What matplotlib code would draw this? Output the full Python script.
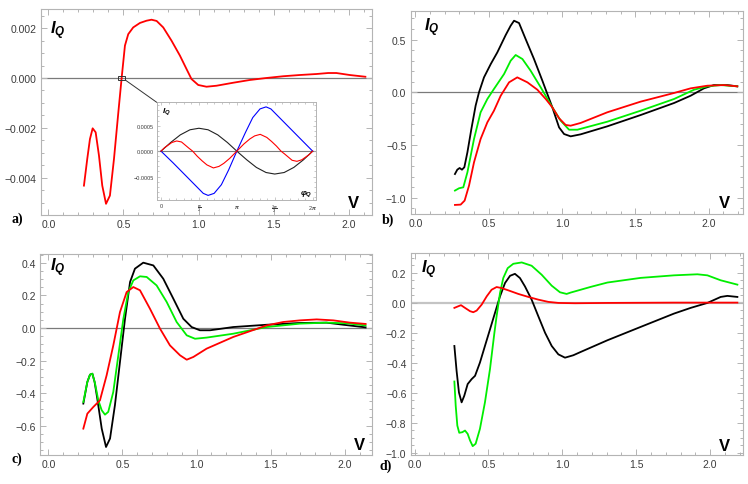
import numpy as np
import matplotlib
matplotlib.use("Agg")
import matplotlib.pyplot as plt
from matplotlib.patches import Rectangle, ConnectionPatch
from matplotlib.ticker import MultipleLocator, FixedLocator, FuncFormatter

plt.rcParams['font.family'] = ['Liberation Sans', 'DejaVu Sans']
plt.rcParams['mathtext.fontset'] = 'custom'
plt.rcParams['mathtext.it'] = 'Liberation Sans:italic:bold'
plt.rcParams['mathtext.rm'] = 'Liberation Sans'
plt.rcParams['mathtext.bf'] = 'Liberation Sans:bold'

RED = '#ff0000'
GREEN = '#00ee00'
BLACK = '#000000'
BLUE = '#0000ff'

# ---- panel a ----
ax_red = [0.237, 0.259, 0.277, 0.295, 0.315, 0.337, 0.359, 0.384, 0.410, 0.437,
          0.466, 0.488, 0.510, 0.532, 0.565, 0.610, 0.654, 0.687, 0.721, 0.765,
          0.820, 0.876, 0.920, 0.953, 0.998, 1.053, 1.120, 1.231, 1.341, 1.452,
          1.563, 1.674, 1.785, 1.863, 1.918, 2.007, 2.111]
ay_red = [-0.00432, -0.00325, -0.00245, -0.00202, -0.00218, -0.00311, -0.00432, -0.00505, -0.00472, -0.00325,
          -0.00138, 0.0, 0.0013, 0.00176, 0.00203, 0.00221, 0.00230, 0.00234, 0.00229, 0.00203,
          0.0015, 0.0009, 0.00036, -0.00004, -0.00028, -0.00035, -0.00031, -0.00019, -0.00008, 0.0,
          0.00007, 0.00012, 0.00016, 0.0002, 0.0002, 0.00012, 0.00005]

# inset of panel a (phase dependence)
phi_black = [0, 0.4, 0.8, 1.2, 1.57, 1.95, 2.35, 2.75, 3.14, 3.55, 3.95, 4.35, 4.71, 5.1, 5.5, 5.9, 6.28]
in_black = [0, 0.00017, 0.00032, 0.00042, 0.00045, 0.00042, 0.00032, 0.00017, 0,
            -0.00017, -0.00032, -0.00042, -0.00045, -0.00042, -0.00032, -0.00017, 0]
phi_blue = [0, 0.5, 1.0, 1.5, 1.75, 1.95, 2.2, 2.5, 2.8, 3.14, 3.5, 3.8, 4.1, 4.35, 4.55, 4.8, 5.3, 5.8, 6.28]
in_blue = [0, -0.00023, -0.00047, -0.00071, -0.00083, -0.00087, -0.00083, -0.00066, -0.00037, 0,
           0.00037, 0.00066, 0.00083, 0.00087, 0.00083, 0.00071, 0.00047, 0.00023, 0]
phi_red = [0, 0.15, 0.3, 0.45, 0.65, 0.85, 1.0, 1.15, 1.31, 1.5, 1.7, 1.9, 2.17, 2.4, 2.6, 2.85, 3.14,
           3.43, 3.68, 3.88, 4.11, 4.38, 4.58, 4.78, 4.97, 5.13, 5.28, 5.43, 5.63, 5.83, 5.98, 6.13, 6.28]
in_red = [0, 0.00007, 0.00012, 0.00017, 0.0002, 0.00018, 0.00012, 0.00006, 0, -0.0001, -0.00019, -0.00027,
          -0.00033, -0.0003, -0.00024, -0.00014, 0, 0.00014, 0.00024, 0.0003, 0.00033, 0.00027, 0.00019,
          0.0001, 0, -0.00006, -0.00012, -0.00018, -0.0002, -0.00017, -0.00012, -0.00007, 0]

# ---- panel b ----
bx_black = [0.270, 0.286, 0.302, 0.318, 0.334, 0.355, 0.382, 0.411, 0.434, 0.468, 0.514, 0.559, 0.616,
            0.650, 0.673, 0.707, 0.752, 0.809, 0.866, 0.934, 0.980, 1.014, 1.059, 1.127, 1.309, 1.536,
            1.764, 1.877, 1.968, 2.036, 2.127, 2.195]
by_black = [-0.774, -0.733, -0.717, -0.733, -0.710, -0.568, -0.347, -0.126, 0.0, 0.142, 0.268, 0.379, 0.543,
            0.632, 0.679, 0.657, 0.505, 0.316, 0.111, -0.142, -0.332, -0.395, -0.417, -0.398, -0.322, -0.215,
            -0.101, -0.032, 0.038, 0.069, 0.069, 0.057]
bx_green = [0.270, 0.298, 0.327, 0.355, 0.400, 0.445, 0.491, 0.536, 0.605, 0.650, 0.684, 0.730, 0.786,
            0.855, 0.934, 0.991, 1.048, 1.105, 1.309, 1.536, 1.764, 1.900, 1.991, 2.082, 2.195]
by_green = [-0.931, -0.909, -0.900, -0.758, -0.442, -0.189, -0.063, 0.032, 0.174, 0.300, 0.354, 0.316, 0.205,
            0.047, -0.142, -0.268, -0.354, -0.354, -0.278, -0.174, -0.063, 0.025, 0.057, 0.069, 0.057]
bx_red = [0.270, 0.309, 0.336, 0.366, 0.400, 0.445, 0.491, 0.536, 0.582, 0.639, 0.695, 0.764, 0.832,
          0.889, 0.934, 0.980, 1.025, 1.059, 1.127, 1.309, 1.536, 1.764, 1.877, 1.991, 2.105, 2.195]
by_red = [-1.067, -1.064, -1.026, -0.884, -0.663, -0.442, -0.284, -0.174, -0.032, 0.095, 0.142, 0.095, 0.025,
          -0.063, -0.142, -0.246, -0.309, -0.316, -0.290, -0.189, -0.088, -0.006, 0.038, 0.063, 0.069, 0.057]

# ---- panel c ----
cx_black = [0.236, 0.263, 0.281, 0.297, 0.312, 0.330, 0.360, 0.389, 0.416, 0.449, 0.483, 0.517, 0.551,
            0.584, 0.640, 0.708, 0.775, 0.843, 0.910, 0.966, 1.022, 1.090, 1.247, 1.472, 1.697, 1.876,
            1.989, 2.139]
cy_black = [-0.465, -0.332, -0.287, -0.281, -0.332, -0.434, -0.619, -0.732, -0.680, -0.475, -0.209, 0.057,
            0.283, 0.365, 0.402, 0.385, 0.303, 0.180, 0.057, 0.006, -0.014, -0.014, 0.006, 0.020, 0.031,
            0.033, 0.020, 0.004]
cx_green = [0.236, 0.263, 0.281, 0.297, 0.315, 0.337, 0.360, 0.382, 0.404, 0.438, 0.472, 0.506, 0.539,
            0.573, 0.618, 0.663, 0.730, 0.798, 0.865, 0.933, 0.989, 1.067, 1.247, 1.472, 1.697, 1.876,
            2.011, 2.139]
cy_green = [-0.455, -0.332, -0.287, -0.281, -0.342, -0.445, -0.506, -0.533, -0.516, -0.393, -0.168, 0.057,
            0.221, 0.293, 0.318, 0.314, 0.262, 0.160, 0.037, -0.045, -0.066, -0.059, -0.035, 0.006, 0.027,
            0.033, 0.029, 0.016]
cx_red = [0.236, 0.263, 0.303, 0.348, 0.393, 0.438, 0.483, 0.528, 0.573, 0.618, 0.685, 0.753, 0.820,
          0.888, 0.933, 0.978, 1.067, 1.247, 1.472, 1.584, 1.697, 1.809, 1.921, 2.034, 2.139]
cy_red = [-0.619, -0.527, -0.486, -0.445, -0.291, -0.107, 0.098, 0.221, 0.252, 0.232, 0.119, -0.004, -0.107,
          -0.168, -0.195, -0.178, -0.127, -0.055, 0.016, 0.037, 0.047, 0.053, 0.047, 0.033, 0.025]

# ---- panel d ----
dx_black = [0.269, 0.284, 0.300, 0.318, 0.336, 0.359, 0.386, 0.409, 0.442, 0.476, 0.510, 0.544, 0.578,
            0.612, 0.646, 0.679, 0.713, 0.747, 0.792, 0.837, 0.883, 0.928, 0.973, 1.018, 1.074, 1.124,
            1.305, 1.530, 1.756, 1.869, 1.982, 2.072, 2.117, 2.185]
dy_black = [-0.287, -0.453, -0.597, -0.663, -0.619, -0.541, -0.508, -0.486, -0.398, -0.287, -0.177, -0.066,
            0.044, 0.133, 0.181, 0.194, 0.166, 0.110, 0.022, -0.088, -0.199, -0.287, -0.343, -0.365, -0.349,
            -0.327, -0.249, -0.160, -0.071, -0.033, 0.0, 0.040, 0.047, 0.040]
dx_green = [0.269, 0.278, 0.289, 0.302, 0.323, 0.341, 0.359, 0.375, 0.393, 0.413, 0.442, 0.476, 0.510,
            0.540, 0.555, 0.578, 0.600, 0.630, 0.668, 0.725, 0.792, 0.860, 0.928, 0.984, 1.029, 1.056,
            1.192, 1.305, 1.530, 1.756, 1.914, 1.982, 2.072, 2.185]
dy_green = [-0.524, -0.685, -0.818, -0.866, -0.862, -0.851, -0.873, -0.917, -0.955, -0.939, -0.840, -0.663,
            -0.442, -0.199, -0.088, 0.066, 0.166, 0.232, 0.261, 0.270, 0.248, 0.188, 0.115, 0.071, 0.060,
            0.069, 0.107, 0.136, 0.167, 0.184, 0.191, 0.184, 0.151, 0.122]
dx_red = [0.269, 0.296, 0.314, 0.341, 0.375, 0.397, 0.420, 0.454, 0.488, 0.521, 0.555, 0.589, 0.634,
          0.702, 0.770, 0.837, 0.905, 0.973, 1.086, 1.305, 1.530, 1.756, 1.982, 2.185]
dy_red = [-0.033, -0.022, -0.015, -0.033, -0.055, -0.062, -0.051, -0.011, 0.044, 0.088, 0.106, 0.099, 0.084,
          0.060, 0.040, 0.022, 0.007, 0.0, -0.002, 0.0, 0.001, 0.002, 0.002, 0.002]

FRAME = '#b4b4b4'
TXT = '#3c3c3c'


def fmt(dec):
    def f(v, pos):
        s = f"{v:.{dec}f}"
        if float(s) == 0:
            s = f"{0:.{dec}f}"
        return s.replace('-', '\u2212')
    return FuncFormatter(f)


def style(ax, xlim, ylim, ymaj, ymin, dec, zero_color='#7a7a7a', zero_lw=0.9):
    ax.set_xlim(*xlim)
    ax.set_ylim(*ylim)
    ax.axhline(0, color=zero_color, lw=zero_lw, zorder=1)
    ax.xaxis.set_major_locator(MultipleLocator(0.5))
    ax.xaxis.set_minor_locator(MultipleLocator(0.1))
    ax.yaxis.set_major_locator(MultipleLocator(ymaj))
    ax.yaxis.set_minor_locator(MultipleLocator(ymin))
    ax.xaxis.set_major_formatter(fmt(1))
    ax.yaxis.set_major_formatter(fmt(dec))
    for s in ax.spines.values():
        s.set_color(FRAME)
        s.set_linewidth(0.8)
    ax.tick_params(which='both', direction='in', top=True, right=True, color=FRAME,
                   labelsize=7.5, labelcolor=TXT, width=0.7)
    ax.tick_params(which='major', length=4, pad=3)
    ax.tick_params(which='minor', length=2)


fig = plt.figure(figsize=(7.48, 4.85), dpi=100)

axa = fig.add_axes([0.0548, 0.5546, 0.4425, 0.4248])
axb = fig.add_axes([0.5490, 0.5567, 0.4443, 0.4192])
axc = fig.add_axes([0.0535, 0.0592, 0.4442, 0.4156])
axd = fig.add_axes([0.5490, 0.0592, 0.4443, 0.4171])

style(axa, (-0.049, 2.155), (-0.0055, 0.00277), 0.002, 0.0005, 3)
style(axb, (-0.032, 2.234), (-1.153, 0.774), 0.5, 0.1, 1)
style(axc, (-0.056, 2.184), (-0.783, 0.457), 0.2, 0.05, 1)
style(axd, (-0.027, 2.223), (-1.016, 0.333), 0.2, 0.05, 1, zero_color='#c4c4c4', zero_lw=1.6)

LW = 1.3
axa.plot(ax_red, ay_red, color=RED, lw=LW, zorder=3)

axb.plot(bx_black, by_black, color=BLACK, lw=LW, zorder=3)
axb.plot(bx_green, by_green, color=GREEN, lw=LW, zorder=3)
axb.plot(bx_red, by_red, color=RED, lw=LW, zorder=3)

axc.plot(cx_black, cy_black, color=BLACK, lw=LW, zorder=3)
axc.plot(cx_green, cy_green, color=GREEN, lw=LW, zorder=3)
axc.plot(cx_red, cy_red, color=RED, lw=LW, zorder=3)

axd.plot(dx_black, dy_black, color=BLACK, lw=LW, zorder=3)
axd.plot(dx_green, dy_green, color=GREEN, lw=LW, zorder=3)
axd.plot(dx_red, dy_red, color=RED, lw=LW, zorder=3)

label_pos = {axa: ((0.028, 0.90), (0.943, 0.063)),
             axb: ((0.040, 0.92), (0.944, 0.059)),
             axc: ((0.030, 0.935), (0.962, 0.056)),
             axd: ((0.031, 0.92), (0.944, 0.050))}
for ax, (ip, vp) in label_pos.items():
    ax.text(ip[0], ip[1], r'$I_Q$', transform=ax.transAxes, fontsize=12, va='center', ha='left')
    ax.text(vp[0], vp[1], 'V', transform=ax.transAxes, fontsize=12, fontweight='bold',
            va='center', ha='center')

for lab, x, y in [('a)', 0.016, 0.548), ('b)', 0.510, 0.546), ('c)', 0.016, 0.053), ('d)', 0.508, 0.038)]:
    fig.text(x, y, lab, fontsize=10, fontweight='bold', family=['Liberation Serif', 'DejaVu Serif'],
             va='center', ha='left')

# marker box and inset
axa.add_patch(Rectangle((0.466, -0.00008), 0.046, 0.00016, fill=False, edgecolor='#333333', lw=0.7, zorder=4))

axi = fig.add_axes([0.2095, 0.5856, 0.213, 0.2014])
axi.set_facecolor('white')
axi.set_xlim(-0.178, 6.42)
axi.set_ylim(-0.00096, 0.00096)
axi.axhline(0, color='#7a7a7a', lw=0.8, zorder=1)
axi.plot(phi_black, in_black, color='#222222', lw=0.8, zorder=3)
axi.plot(phi_blue, in_blue, color=BLUE, lw=0.8, zorder=3)
axi.plot(phi_red, in_red, color=RED, lw=0.8, zorder=3)
axi.xaxis.set_major_locator(FixedLocator([0, np.pi / 2, np.pi, 3 * np.pi / 2, 2 * np.pi]))
axi.xaxis.set_minor_locator(FixedLocator([k * np.pi / 10 for k in range(21)]))
axi.set_xticklabels(['0', r'$\frac{\pi}{2}$', r'$\pi$', r'$\frac{3\pi}{2}$', r'$2\,\pi$'])
axi.yaxis.set_major_locator(MultipleLocator(0.0005))
axi.yaxis.set_minor_locator(MultipleLocator(0.0001))
axi.yaxis.set_major_formatter(fmt(4))
for s in axi.spines.values():
    s.set_color(FRAME)
    s.set_linewidth(0.7)
axi.tick_params(which='both', direction='in', top=True, right=True, color=FRAME,
                labelsize=4, labelcolor=TXT, width=0.5, pad=2)
axi.tick_params(which='major', length=2.5)
axi.tick_params(which='minor', length=1.2)
axi.text(0.035, 0.92, r'$I_Q$', transform=axi.transAxes, fontsize=6, va='center', ha='left')
axi.text(0.94, 0.075, r'$\varphi_Q$', transform=axi.transAxes, fontsize=6, va='center', ha='center')

con = ConnectionPatch(xyA=(0.512, -0.00008), coordsA=axa.transData, xyB=(0, 1), coordsB=axi.transAxes,
                      color='#333333', lw=0.7)
fig.add_artist(con)

fig.savefig('out.png', dpi=100)
